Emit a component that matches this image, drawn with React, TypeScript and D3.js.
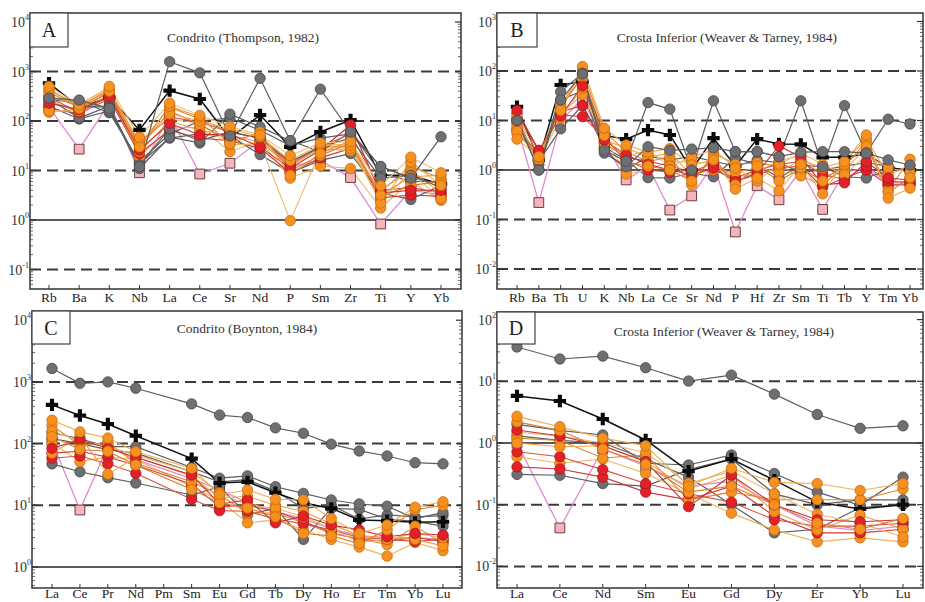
import React from 'react';
import * as d3 from 'd3';

// ---------- Panel A : Condrito (Thompson, 1982) ----------
const catsA = ['Rb', 'Ba', 'K', 'Nb', 'La', 'Ce', 'Sr', 'Nd', 'P', 'Sm', 'Zr', 'Ti', 'Y', 'Yb'];
const A_G0 = [290, 265, 180, 12, 1580, 940, 50, 730, 40, 440, 60, 12, 7, 48];
const A_X = [580, 190, 300, 66, 410, 278, 45, 132, 30, 60, 105, 8, 8, 5.3];
const A_P = [190, 27, 230, 9, 132, 8.5, 14, 40, 12, 16, 7.2, 0.83, 4, 3.2];
const A_O1 = [500, 210, 500, 47, 230, 130, 77, 52, 20, 36, 38, 4.9, 18.6, 9];
const A_O2 = [430, 200, 420, 33, 190, 110, 60, 45, 14, 30, 30, 3.8, 12, 7];
const A_O3 = [150, 170, 380, 19, 72, 75, 24, 40, 7, 12.3, 11, 1.75, 6, 2.5];
const A_O4 = [160, 160, 330, 40, 110, 90, 33, 35, 0.97, 25, 28, 2.5, 9, 2.7];
const A_O5 = [380, 190, 360, 28, 160, 85, 40, 55, 10, 20, 36, 3, 5, 6];
const A_O6 = [300, 220, 450, 36, 140, 100, 70, 48, 16, 33, 33, 2.2, 15, 5];
const A_O7 = [260, 150, 300, 24, 100, 65, 50, 38, 12, 28, 25, 4, 10, 3.5];
const A_O8 = [450, 180, 400, 30, 200, 120, 35, 60, 8, 22, 40, 3.2, 7.5, 8];
const A_R1 = [230, 170, 310, 26, 90, 52, 55, 30, 11, 26, 83, 3.5, 4, 4];
const A_R2 = [300, 150, 320, 35, 120, 95, 60, 45, 13, 30, 55, 4, 4.5, 3.5];
const A_R3 = [180, 140, 280, 22, 65, 45, 40, 28, 9, 18, 28, 2.8, 3.2, 3];
const A_G1 = [280, 115, 200, 11, 47, 36, 138, 76, 40, 24, 60, 9, 6, 6];
const A_G2 = [260, 250, 147, 15, 55, 100, 115, 65, 32, 45, 55, 12, 7, 5.5];
const A_G3 = [200, 110, 160, 14, 45, 55, 50, 21, 9, 16, 22, 3.5, 2.6, 5];
const A_G4 = [320, 200, 190, 13, 70, 40, 60, 45, 15, 30, 45, 7, 8, 4.5];

// ---------- Panel B : Crosta Inferior (Weaver & Tarney, 1984) ----------
const catsB = ['Rb', 'Ba', 'Th', 'U', 'K', 'Nb', 'La', 'Ce', 'Sr', 'Nd', 'P', 'Hf', 'Zr', 'Sm', 'Ti', 'Tb', 'Y', 'Tm', 'Yb'];
const B_G0 = [10, 1.0, 26, 87, 2.5, 1.5, 23, 17, 1.0, 25, 2.35, 2.35, 1.86, 25, 1.17, 20, 2.2, 10.6, 8.5];
const B_X = [19, 1.6, 52, 61, 5, 4.2, 6.4, 5.1, 1.0, 4.4, 1.2, 4.2, 3.35, 3.3, 1.8, 1.8, 2.1, 1.1, 1.0];
const B_P = [7.8, 0.22, 9.5, 28, 3.5, 0.63, 1.2, 0.155, 0.3, 1.3, 0.056, 0.48, 0.25, 1.0, 0.16, 0.9, 1.1, 0.55, 0.6];
const B_O1 = [4.2, 1.86, 16, 123, 7, 3.2, 2.3, 2.7, 1.26, 1.6, 0.41, 0.69, 0.38, 1.3, 0.33, 1.47, 5.1, 0.27, 0.43];
const B_O2 = [5.5, 1.9, 20, 100, 6, 2.35, 1.47, 1.86, 0.5, 2.2, 1.3, 1.4, 1.17, 0.76, 0.5, 1.2, 3.7, 0.39, 1.65];
const B_O3 = [9, 1.7, 14, 33, 4.5, 0.83, 1.0, 1.5, 1.4, 1.4, 0.7, 0.9, 1.5, 2.0, 0.73, 1.0, 2.8, 0.5, 0.55];
const B_O4 = [12, 2.0, 22, 70, 4, 2.8, 1.8, 2.2, 0.8, 1.0, 0.9, 1.1, 0.9, 1.6, 1.1, 1.5, 4.2, 0.8, 1.2];
const B_O5 = [7, 1.6, 11, 45, 3.5, 1.9, 2.5, 1.2, 1.8, 2.6, 1.1, 0.6, 1.3, 2.2, 1.3, 0.8, 2.0, 1.1, 0.9];
const B_O6 = [6, 1.8, 18, 80, 5, 1.4, 1.2, 1.0, 0.6, 1.8, 0.5, 1.2, 0.6, 1.1, 0.6, 1.3, 3.0, 0.35, 0.7];
const B_R1 = [16, 2.5, 12.3, 50, 4, 2.0, 1.3, 1.0, 0.8, 1.1, 0.58, 0.88, 3.05, 1.83, 0.5, 0.55, 1.47, 0.69, 0.63];
const B_R2 = [6.4, 2.2, 13, 12, 4.5, 1.6, 1.0, 0.9, 1.0, 1.0, 0.7, 1.0, 1.3, 1.5, 0.8, 0.65, 1.2, 0.6, 0.55];
const B_R3 = [14, 2.4, 15, 20, 3.5, 1.8, 1.5, 1.2, 0.9, 1.4, 0.6, 0.8, 1.1, 1.2, 0.45, 0.7, 1.0, 0.5, 0.5];
const B_G1 = [10, 1.0, 38, 90, 2.2, 1.17, 2.95, 2.5, 2.65, 2.8, 2.35, 2.35, 1.86, 2.3, 2.35, 2.35, 2.2, 1.6, 1.26];
const B_G2 = [10, 1.5, 6.8, 20, 2.9, 1.6, 0.7, 0.69, 0.87, 0.73, 1.75, 1.3, 0.69, 1.26, 1.17, 0.73, 0.69, 1.0, 1.0];
const B_G3 = [11, 1.3, 26, 40, 2.6, 1.0, 1.9, 1.6, 1.86, 1.5, 1.2, 1.6, 1.4, 0.9, 1.0, 1.2, 1.4, 1.2, 0.9];

// ---------- Panel C : Condrito (Boynton, 1984) ----------
const catsC = ['La', 'Ce', 'Pr', 'Nd', 'Pm', 'Sm', 'Eu', 'Gd', 'Tb', 'Dy', 'Ho', 'Er', 'Tm', 'Yb', 'Lu'];
const C_G0 = [1650, 950, 1000, 790, null, 440, 290, 265, 180, 147, 98, 76, 63, 49, 47];
const C_X = [425, 285, 208, 134, null, 57, 23, 24, 16, 11, 8.9, 5.8, 5.6, 5.3, 5.4];
const C_P = [110, 8.4, 90, 55, null, 27, 18, 11, 8, 6, 4.2, 3.2, 3.0, 3.0, 2.8];
const C_O1 = [240, 155, 123, 74, null, 40, 15, 17.7, 12.5, 12.2, 6.1, 3.5, 4.8, 9.3, 11.4];
const C_O2 = [195, 95, 104, 48, null, 24, 14.7, 7.5, 7.5, 5.2, 3.5, 2.9, 2.3, 4.6, 2.4];
const C_O3 = [103, 51, 61, 55, null, 20, 12, 5.2, 5.8, 4.0, 2.8, 2.1, 1.5, 2.5, 1.84];
const C_O4 = [70, 130, 32, 60, null, 30, 13, 14, 10, 8, 5, 3.2, 3.0, 2.8, 2.2];
const C_O5 = [160, 110, 90, 65, null, 35, 16, 10, 9, 6.5, 4.2, 2.5, 2.8, 3.5, 3.0];
const C_O6 = [130, 80, 75, 45, null, 18, 11, 9, 6.5, 3.5, 3.2, 2.4, 4.0, 8.5, 10];
const C_R1 = [84, 115, 84, 60, null, 31, 10.5, 12.2, 5.2, 6.7, 4.8, 4.0, 3.1, 3.5, 3.3];
const C_R2 = [58, 63, 47, 33, null, 12.5, 8.2, 8, 6, 5, 4.0, 3.0, 2.8, 2.6, 2.8];
const C_R3 = [70, 75, 60, 45, null, 22, 9.5, 10, 8, 5.5, 3.6, 2.8, 2.6, 3.0, 2.6];
const C_G1 = [150, 120, 89, 89, null, 41, 27.5, 30, 20, 15.6, 12.2, 10.5, 9.7, 6.1, 7.6];
const C_G2 = [47, 35, 28, 23, null, 14.7, 20, 7, 9, 2.8, 8.9, 8.6, 6, 5.5, 4.6];
const C_G3 = [120, 100, 80, 70, null, 35, 24, 26, 17, 8.9, 10, 6, 7, 6.5, 6.8];

// ---------- Panel D : Crosta Inferior (Weaver & Tarney, 1984) ----------
const catsD = ['La', 'Ce', 'Nd', 'Sm', 'Eu', 'Gd', 'Dy', 'Er', 'Yb', 'Lu'];
const D_G0 = [36, 23, 25.6, 16.6, 10.1, 12.6, 6.2, 2.9, 1.73, 1.9];
const D_X = [5.8, 4.8, 2.45, 1.12, 0.35, 0.55, 0.25, 0.11, 0.085, 0.1];
const D_P = [1.0, 0.042, 0.8, 0.42, 0.2, 0.24, 0.1, 0.045, 0.038, 0.045];
const D_O1 = [2.7, 1.84, 1.2, 0.9, 0.2, 0.39, 0.23, 0.22, 0.17, 0.22];
const D_O2 = [1.2, 1.1, 0.57, 0.64, 0.12, 0.16, 0.12, 0.12, 0.12, 0.18];
const D_O3 = [0.6, 0.47, 0.55, 0.32, 0.15, 0.073, 0.039, 0.025, 0.029, 0.025];
const D_O4 = [1.0, 0.87, 0.9, 0.5, 0.18, 0.3, 0.077, 0.039, 0.068, 0.04];
const D_O5 = [1.5, 1.3, 1.0, 0.7, 0.22, 0.35, 0.15, 0.07, 0.05, 0.03];
const D_O6 = [2.2, 1.6, 0.8, 0.45, 0.16, 0.2, 0.1, 0.05, 0.04, 0.06];
const D_R1 = [1.62, 1.3, 0.9, 0.5, 0.093, 0.3, 0.1, 0.057, 0.053, 0.057];
const D_R2 = [0.72, 0.6, 0.37, 0.22, 0.15, 0.11, 0.057, 0.045, 0.045, 0.05];
const D_R3 = [0.41, 0.38, 0.28, 0.16, 0.12, 0.2, 0.065, 0.035, 0.035, 0.04];
const D_G1 = [2.0, 1.6, 1.35, 0.47, 0.44, 0.64, 0.32, 0.16, 0.098, 0.28];
const D_G2 = [0.31, 0.3, 0.22, 0.2, 0.37, 0.55, 0.15, 0.1, 0.12, 0.12];
const D_G3 = [1.3, 1.1, 1.0, 0.55, 0.28, 0.1, 0.035, 0.04, 0.09, 0.1];

type Kind = 'gray' | 'orange' | 'red' | 'pink' | 'cross';
type Series = { kind: Kind; v: (number | null)[] };

const seriesA: Series[] = [
  { kind: 'pink', v: A_P },
  { kind: 'gray', v: A_G2 }, { kind: 'gray', v: A_G3 }, { kind: 'cross', v: A_X }, { kind: 'orange', v: A_O3 }, { kind: 'red', v: A_R3 },
  { kind: 'orange', v: A_O2 }, { kind: 'gray', v: A_G1 }, { kind: 'orange', v: A_O7 }, { kind: 'red', v: A_R2 },
  { kind: 'orange', v: A_O4 }, { kind: 'gray', v: A_G4 }, { kind: 'orange', v: A_O5 }, { kind: 'red', v: A_R1 },
  { kind: 'orange', v: A_O6 }, { kind: 'orange', v: A_O8 }, { kind: 'orange', v: A_O1 },
  { kind: 'gray', v: A_G0 },
];
const seriesB: Series[] = [
  { kind: 'pink', v: B_P },
  { kind: 'gray', v: B_G3 }, { kind: 'gray', v: B_G2 }, { kind: 'cross', v: B_X }, { kind: 'orange', v: B_O3 }, { kind: 'red', v: B_R3 },
  { kind: 'orange', v: B_O2 }, { kind: 'red', v: B_R2 }, { kind: 'orange', v: B_O4 }, { kind: 'orange', v: B_O5 },
  { kind: 'red', v: B_R1 }, { kind: 'orange', v: B_O6 }, { kind: 'orange', v: B_O1 }, { kind: 'gray', v: B_G1 },
  { kind: 'gray', v: B_G0 },
];
const seriesC: Series[] = [
  { kind: 'pink', v: C_P },
  { kind: 'gray', v: C_G3 }, { kind: 'gray', v: C_G2 }, { kind: 'gray', v: C_G1 }, { kind: 'cross', v: C_X },
  { kind: 'orange', v: C_O3 }, { kind: 'red', v: C_R3 }, { kind: 'orange', v: C_O2 },
  { kind: 'red', v: C_R2 }, { kind: 'orange', v: C_O4 }, { kind: 'orange', v: C_O5 },
  { kind: 'red', v: C_R1 }, { kind: 'orange', v: C_O6 }, { kind: 'orange', v: C_O1 },
  { kind: 'gray', v: C_G0 },
];
const seriesD: Series[] = [
  { kind: 'pink', v: D_P },
  { kind: 'gray', v: D_G3 }, { kind: 'gray', v: D_G2 }, { kind: 'gray', v: D_G1 }, { kind: 'cross', v: D_X },
  { kind: 'orange', v: D_O3 }, { kind: 'red', v: D_R3 }, { kind: 'orange', v: D_O2 },
  { kind: 'red', v: D_R2 }, { kind: 'orange', v: D_O4 }, { kind: 'orange', v: D_O5 },
  { kind: 'red', v: D_R1 }, { kind: 'orange', v: D_O6 }, { kind: 'orange', v: D_O1 },
  { kind: 'gray', v: D_G0 },
];

const ORANGE_LINES = ['#eeb25c', '#e4832e', '#f0a443', '#e9b870', '#dd7a2c', '#f2ad50', '#e8963a', '#eec07a'];
const RED_LINES = ['#cf3a3a', '#d9524a', '#c63030'];
const FONT = '"Liberation Serif", "Times New Roman", serif';

type PanelCfg = {
  letter: string; title: string; titleX: number; titleY: number;
  x0: number; x1: number; y0: number; y1: number;
  zeroY: number; decade: number; firstX: number; lastX: number;
  boxW: number; boxH: number; labelDy: number;
  cats: string[]; series: Series[];
};

function lineStyle(kind: Kind, oi: number, ri: number) {
  if (kind === 'orange') return { stroke: ORANGE_LINES[oi % ORANGE_LINES.length], sw: 1.1 };
  if (kind === 'red') return { stroke: RED_LINES[ri % RED_LINES.length], sw: 1.1 };
  if (kind === 'pink') return { stroke: '#e08ad0', sw: 1.3 };
  if (kind === 'cross') return { stroke: '#111', sw: 1.5 };
  return { stroke: '#5c5d60', sw: 1.2 };
}

function Panel({ c }: { c: PanelCfg }) {
  const loL = (c.zeroY - c.y1) / c.decade;
  const hiL = (c.zeroY - c.y0) / c.decade;
  const y = d3.scaleLog().domain([Math.pow(10, loL), Math.pow(10, hiL)]).range([c.y1, c.y0]);
  const x = d3.scalePoint<string>().domain(c.cats).range([c.firstX, c.lastX]);
  const decades = d3.range(Math.ceil(loL), Math.floor(hiL) + 1);
  const minor: number[] = [];
  for (let k = Math.floor(loL); k <= Math.ceil(hiL); k++) {
    for (let m = 2; m <= 9; m++) {
      const v = m * Math.pow(10, k);
      const yy = y(v);
      if (yy > c.y0 + 1 && yy < c.y1 - 1) minor.push(v);
    }
  }
  const line = d3.line<[number, number]>().x(d => d[0]).y(d => d[1]);
  const cross = d3.symbol().type(d3.symbolCross).size(85)()!;
  const square = d3.symbol().type(d3.symbolSquare).size(95)()!;

  let oi = 0, ri = 0;
  const prepared = c.series.map(s => {
    const pts: [number, number][] = [];
    s.v.forEach((v, i) => { if (v != null) pts.push([x(c.cats[i])!, y(v)]); });
    const st = lineStyle(s.kind, oi, ri);
    if (s.kind === 'orange') oi++;
    if (s.kind === 'red') ri++;
    return { kind: s.kind, pts, ...st };
  });

  return (
    <g>
      {decades.filter(k => k < Math.floor(hiL)).map(k => (
        <line key={'g' + k} x1={c.x0} x2={c.x1} y1={y(Math.pow(10, k))} y2={y(Math.pow(10, k))}
          stroke={k === 0 ? '#222' : '#3a3a3a'} strokeWidth={k === 0 ? 1.6 : 2}
          strokeDasharray={k === 0 ? undefined : '11,6'} />
      ))}
      {prepared.map((s, si) => (
        <path key={'l' + si} d={line(s.pts)!} fill="none" stroke={s.stroke} strokeWidth={s.sw} />
      ))}
      {prepared.map((s, si) => (
        <g key={'m' + si}>
          {s.pts.map((p, pi) => {
            if (s.kind === 'cross') return <path key={pi} d={cross} transform={`translate(${p[0]},${p[1]})`} fill="#0a0a0a" />;
            if (s.kind === 'pink') return <path key={pi} d={square} transform={`translate(${p[0]},${p[1]})`} fill="#f5b3bb" stroke="#6a3d3d" strokeWidth={1} />;
            const fill = s.kind === 'gray' ? '#6e6f72' : s.kind === 'orange' ? '#f6901f' : '#e2202a';
            const st = s.kind === 'gray' ? '#47484a' : s.kind === 'orange' ? '#c56c12' : '#a8161c';
            return <circle key={pi} cx={p[0]} cy={p[1]} r={5.2} fill={fill} stroke={st} strokeWidth={0.8} />;
          })}
        </g>
      ))}
      <rect x={c.x0} y={c.y0} width={c.x1 - c.x0} height={c.y1 - c.y0} fill="none" stroke="#333" strokeWidth={1.5} />
      {decades.map(k => (
        <g key={'t' + k}>
          <line x1={c.x0} x2={c.x0 + 6} y1={y(Math.pow(10, k))} y2={y(Math.pow(10, k))} stroke="#333" strokeWidth={1.2} />
          <line x1={c.x1} x2={c.x1 - 6} y1={y(Math.pow(10, k))} y2={y(Math.pow(10, k))} stroke="#333" strokeWidth={1.2} />
          <text x={c.x0 - 1} y={y(Math.pow(10, k)) + 5} textAnchor="end" fontFamily={FONT} fontSize={14} fill="#333">
            10<tspan dy={-7} fontSize={8}>{String(k)}</tspan>
          </text>
        </g>
      ))}
      {minor.map((v, i) => (
        <g key={'n' + i}>
          <line x1={c.x0} x2={c.x0 + 3} y1={y(v)} y2={y(v)} stroke="#444" strokeWidth={0.8} />
          <line x1={c.x1} x2={c.x1 - 3} y1={y(v)} y2={y(v)} stroke="#444" strokeWidth={0.8} />
        </g>
      ))}
      {c.cats.map(cat => (
        <g key={'c' + cat}>
          <line x1={x(cat)} x2={x(cat)} y1={c.y1} y2={c.y1 - 4} stroke="#333" strokeWidth={1} />
          <text x={x(cat)} y={c.y1 + c.labelDy} textAnchor="middle" fontFamily={FONT} fontSize={13.5} fill="#222">{cat}</text>
        </g>
      ))}
      <rect x={c.x0} y={c.y0} width={c.boxW} height={c.boxH} fill="#fff" stroke="#444" strokeWidth={1.2} />
      <text x={c.x0 + c.boxW / 2} y={c.y0 + c.boxH / 2 + 7} textAnchor="middle" fontFamily={FONT} fontSize={20} fill="#222">{c.letter}</text>
      <text x={c.titleX} y={c.titleY} textAnchor="middle" fontFamily={FONT} fontSize={13.5} fill="#333">{c.title}</text>
    </g>
  );
}

const panels: PanelCfg[] = [
  { letter: 'A', title: 'Condrito (Thompson, 1982)', titleX: 243, titleY: 42, x0: 30, x1: 461, y0: 13, y1: 289,
    zeroY: 220, decade: 49.5, firstX: 49, lastX: 441, boxW: 38, boxH: 34, labelDy: 13, cats: catsA, series: seriesA },
  { letter: 'B', title: 'Crosta Inferior (Weaver & Tarney, 1984)', titleX: 727, titleY: 42, x0: 497, x1: 923, y0: 13, y1: 289,
    zeroY: 170, decade: 49.5, firstX: 517, lastX: 910, boxW: 40, boxH: 34, labelDy: 13, cats: catsB, series: seriesB },
  { letter: 'C', title: 'Condrito (Boynton, 1984)', titleX: 247, titleY: 333, x0: 32, x1: 462, y0: 311, y1: 588,
    zeroY: 567, decade: 61.7, firstX: 52, lastX: 443, boxW: 38, boxH: 33, labelDy: 10, cats: catsC, series: seriesC },
  { letter: 'D', title: 'Crosta Inferior (Weaver & Tarney, 1984)', titleX: 724, titleY: 336, x0: 497, x1: 923, y0: 312, y1: 588,
    zeroY: 443, decade: 61.7, firstX: 517, lastX: 903, boxW: 38, boxH: 32, labelDy: 10, cats: catsD, series: seriesD },
];

export default function App() {
  return (
    <svg width={925} height={602} style={{ position: 'absolute', left: 0, top: 0, background: '#fff' }}>
      <rect width={925} height={602} fill="#fff" />
      {panels.map(p => <Panel key={p.letter} c={p} />)}
    </svg>
  );
}
